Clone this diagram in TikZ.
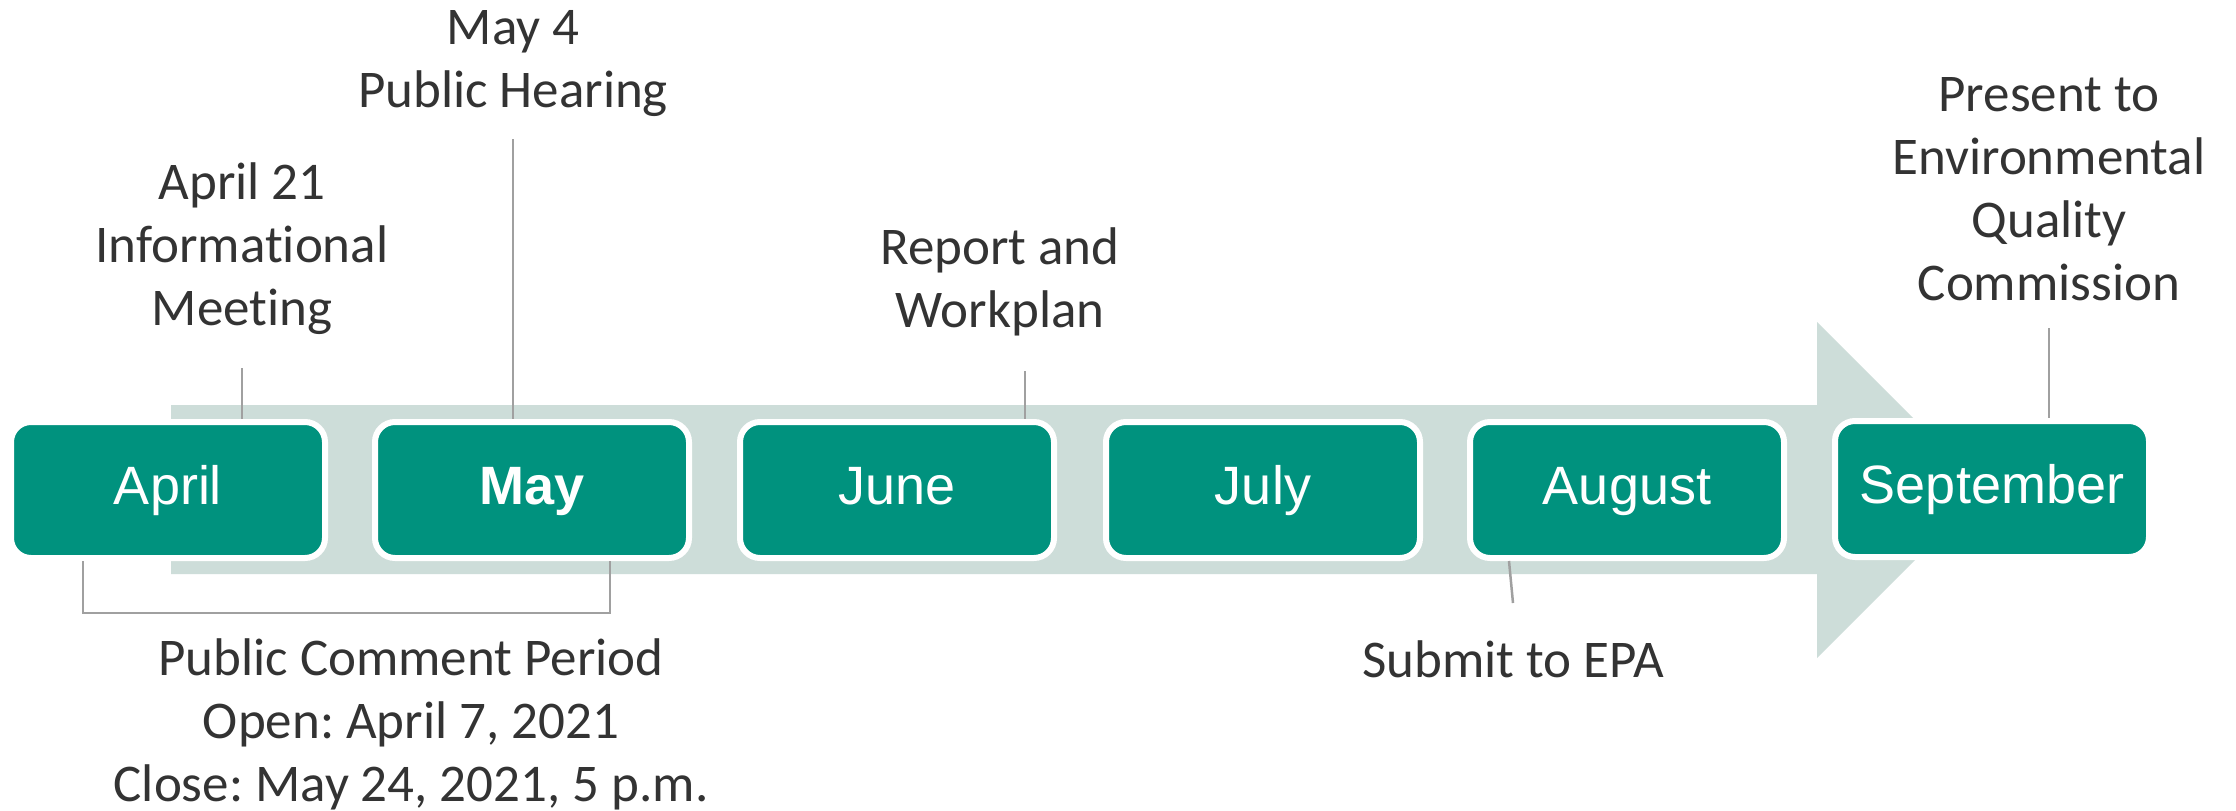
\documentclass[tikz,border=0pt]{standalone}
\usepackage{fontspec}
\setmainfont[Ligatures={NoCommon}]{Carlito}
\newfontfamily\boxfont{Liberation Sans}
\definecolor{teal1}{RGB}{0,146,126}
\definecolor{arrowc}{RGB}{205,221,217}
\definecolor{txtc}{RGB}{51,51,51}
\definecolor{connc}{RGB}{160,160,160}
\frenchspacing
\begin{document}
\begin{tikzpicture}[x=1pt,y=-1pt,
  month/.style={rectangle, rounded corners=20pt, fill=teal1, draw=white, line width=6pt,
    minimum width=314pt, minimum height=136pt, inner sep=0pt, text=white,
    font=\boxfont\fontsize{54}{60}\selectfont, text height=39pt, text depth=11pt},
  lab/.style={align=center, text=txtc, font=\fontsize{53}{63}\selectfont, inner sep=0pt},
  conn/.style={draw=connc, line width=2.5pt}]
\useasboundingbox[fill=white] (0,0) rectangle (2236,811);
% big arrow
\fill[arrowc] (171,405) -- (1817,405) -- (1817,322) -- (1985,490) -- (1817,658)
  -- (1817,574) -- (171,574) -- cycle;
% month boxes
\node[month] (april) at (168,490) {April};
\node[month] (may) at (532,490) {\bfseries May};
\node[month] (june) at (897,490) {June};
\node[month] (july) at (1263,490) {July};
\node[month] (aug) at (1627,490) {August};
\node[month] (sept) at (1992,489) {September};
% labels
\node[lab] (hear) at (513,64) {May 4\\Public Hearing};
\node[lab] (info) at (242,249) {April 21\\Informational\\Meeting};
\node[lab] (rep) at (1000,282) {Report and\\Workplan};
\node[lab] (eqc) at (2049,189) {Present to\\Environmental\\Quality\\Commission};
\node[lab] (epa) at (1513,659) {Submit to EPA};
\node[lab] (pcp) at (411,724) {Public Comment Period\\Open: April 7, 2021\\Close: May 24, 2021, 5 p.m.};
% connector ends
\coordinate (hearend) at (513,139);
\coordinate (infoend) at (242,368);
\coordinate (repend) at (1025,371);
\coordinate (eqcend) at (2049,328);
\coordinate (epaend) at (1513,603);
\coordinate (brl) at (83,613);
\coordinate (brr) at (610,613);
% connectors
\draw[conn] (hearend) -- (hearend |- may.north);
\draw[conn] (infoend) -- (infoend |- april.north);
\draw[conn] (repend) -- (repend |- june.north);
\draw[conn] (eqcend) -- (eqcend |- sept.north);
\draw[conn] (epaend) -- (1509,0 |- aug.south);
\draw[conn] (brl |- april.south) -- (brl) -- (brr) -- (brr |- may.south);
\end{tikzpicture}
\end{document}
